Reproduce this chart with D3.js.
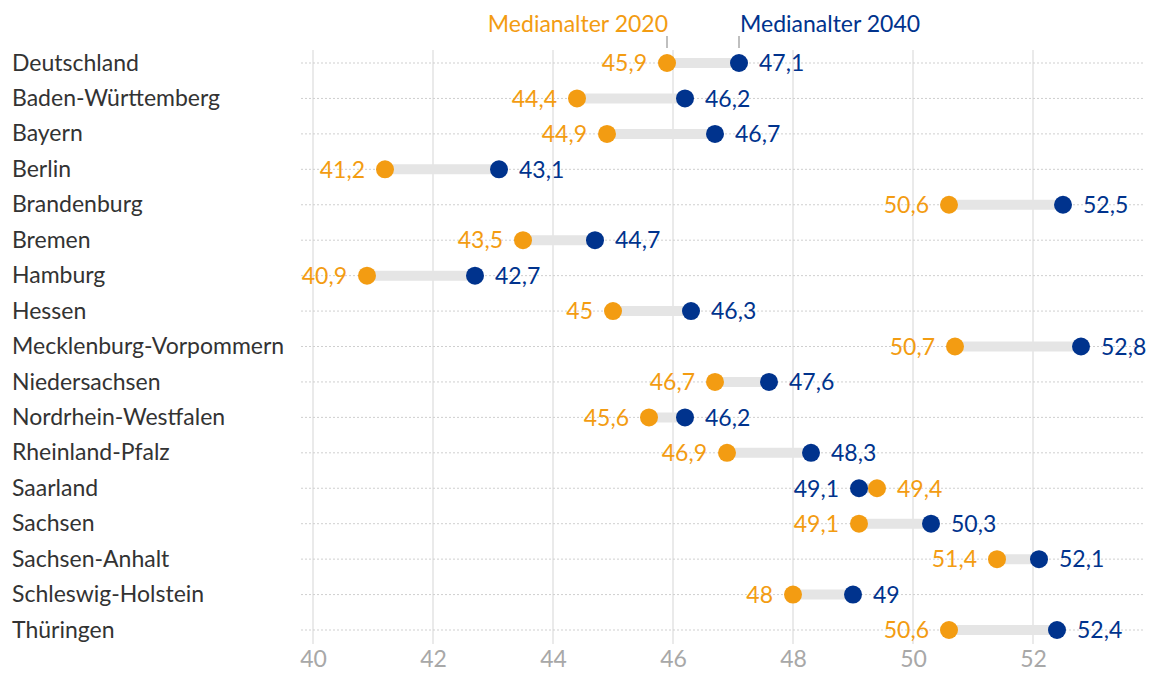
<!DOCTYPE html>
<html>
<head>
<meta charset="utf-8">
<script src="https://cdn.jsdelivr.net/npm/d3@7"></script>
<style>
  body { margin: 0; background: #fff; }
  text { font-family: Lato, "Open Sans", sans-serif; }
</style>
</head>
<body>
<svg></svg>
<script>
let regions = ['Deutschland', 'Baden-Württemberg', 'Bayern', 'Berlin', 'Brandenburg', 'Bremen',
  'Hamburg', 'Hessen', 'Mecklenburg-Vorpommern', 'Niedersachsen', 'Nordrhein-Westfalen',
  'Rheinland-Pfalz', 'Saarland', 'Sachsen', 'Sachsen-Anhalt', 'Schleswig-Holstein', 'Thüringen']
let median2020 = [45.9, 44.4, 44.9, 41.2, 50.6, 43.5, 40.9, 45, 50.7, 46.7, 45.6, 46.9, 49.4, 49.1, 51.4, 48, 50.6]
let median2040 = [47.1, 46.2, 46.7, 43.1, 52.5, 44.7, 42.7, 46.3, 52.8, 47.6, 46.2, 48.3, 49.1, 50.3, 52.1, 49, 52.4]
let xTicks = [40, 42, 44, 46, 48, 50, 52]
let seriesNames = ['Medianalter 2020', 'Medianalter 2040']

let orange = '#f39c12',
    blue = '#00338d'

let width = 1150,
    height = 680

let svg = d3.select('svg')
            .attr('width', width)
            .attr('height', height)

let rows = regions.map((r, i) => ({name: r, a: median2020[i], b: median2040[i]}))

// x scale
let xScale = d3.scaleLinear()
      .domain([40, 52])
      .range([313, 1033])

// y scale
let yScale = d3.scalePoint()
      .domain(regions)
      .range([63, 630])

let fmt = v => String(v).replace('.', ',')

// vertical grid
svg.append('g')
   .selectAll('line')
   .data(xTicks)
   .enter()
   .append('line')
   .attr('x1', d => xScale(d))
   .attr('x2', d => xScale(d))
   .attr('y1', 50)
   .attr('y2', 644)
   .attr('stroke', '#e3e3e3')
   .attr('stroke-width', 1.5)

// row dotted lines
svg.append('g')
   .selectAll('line')
   .data(rows)
   .enter()
   .append('line')
   .attr('x1', xScale(39.8))
   .attr('x2', xScale(53.85))
   .attr('y1', d => yScale(d.name))
   .attr('y2', d => yScale(d.name))
   .attr('stroke', '#cfcfcf')
   .attr('stroke-width', 1)
   .attr('stroke-dasharray', '2,2')

// x axis
let xAxis = d3.axisBottom()
              .scale(xScale)
              .tickValues(xTicks)
              .tickSize(0)
              .tickPadding(0)

let axisG = svg.append('g')
   .attr('transform', 'translate(0,651)')
   .call(xAxis)
axisG.select('.domain').remove()
axisG.selectAll('text')
     .attr('dy', '0.71em')
     .attr('fill', '#a8a8a8')
     .style('font-size', '23px')
     .style('font-family', 'Lato, sans-serif')

// region labels
svg.append('g')
   .selectAll('text')
   .data(rows)
   .enter()
   .append('text')
   .attr('x', 12)
   .attr('y', d => yScale(d.name))
   .attr('dy', '0.33em')
   .attr('fill', '#333')
   .style('font-size', '23px')
   .text(d => d.name)

// connectors
svg.append('g')
   .selectAll('line')
   .data(rows)
   .enter()
   .append('line')
   .attr('x1', d => xScale(d.a))
   .attr('x2', d => xScale(d.b))
   .attr('y1', d => yScale(d.name))
   .attr('y2', d => yScale(d.name))
   .attr('stroke', '#e5e5e5')
   .attr('stroke-width', 10)

// dots
let dots = svg.append('g')
dots.selectAll('circle.b')
    .data(rows)
    .enter()
    .append('circle')
    .attr('class', 'b')
    .attr('cx', d => xScale(d.b))
    .attr('cy', d => yScale(d.name))
    .attr('r', 9)
    .attr('fill', blue)
dots.selectAll('circle.a')
    .data(rows)
    .enter()
    .append('circle')
    .attr('class', 'a')
    .attr('cx', d => xScale(d.a))
    .attr('cy', d => yScale(d.name))
    .attr('r', 9)
    .attr('fill', orange)

// value labels
let labels = svg.append('g')
rows.forEach(d => {
  let vals = [{v: d.a, c: orange}, {v: d.b, c: blue}]
  let lo = d.a <= d.b ? vals[0] : vals[1],
      hi = d.a <= d.b ? vals[1] : vals[0]
  labels.append('text')
        .attr('x', xScale(lo.v) - 20)
        .attr('y', yScale(d.name))
        .attr('dy', '0.36em')
        .attr('text-anchor', 'end')
        .attr('fill', lo.c)
        .style('font-size', '23px')
        .text(fmt(lo.v))
  labels.append('text')
        .attr('x', xScale(hi.v) + 20)
        .attr('y', yScale(d.name))
        .attr('dy', '0.36em')
        .attr('fill', hi.c)
        .style('font-size', '23px')
        .text(fmt(hi.v))
})

// legend
let first = rows[0]
let legend = svg.append('g')
legend.append('line')
      .attr('x1', xScale(first.a)).attr('x2', xScale(first.a))
      .attr('y1', 36).attr('y2', 48)
      .attr('stroke', '#aaa').attr('stroke-width', 1.5)
legend.append('line')
      .attr('x1', xScale(first.b)).attr('x2', xScale(first.b))
      .attr('y1', 36).attr('y2', 48)
      .attr('stroke', '#aaa').attr('stroke-width', 1.5)
legend.append('text')
      .attr('x', xScale(first.a) + 1)
      .attr('y', 24)
      .attr('dy', '0.35em')
      .attr('text-anchor', 'end')
      .attr('fill', orange)
      .style('font-size', '23px')
      .text(seriesNames[0])
legend.append('text')
      .attr('x', xScale(first.b) + 1)
      .attr('y', 24)
      .attr('dy', '0.35em')
      .attr('fill', blue)
      .style('font-size', '23px')
      .text(seriesNames[1])
</script>
</body>
</html>
